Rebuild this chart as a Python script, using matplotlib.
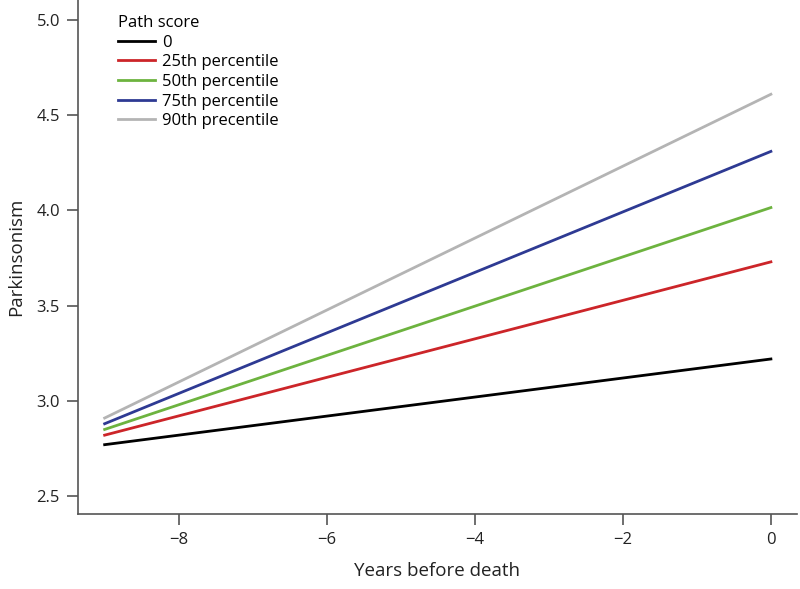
import matplotlib
matplotlib.use("Agg")
import matplotlib.pyplot as plt
import numpy as np

plt.rcParams['font.family'] = ['Open Sans', 'DejaVu Sans']

# years before death, line end points
years = [-9, 0]
labels = ['0', '25th percentile', '50th percentile', '75th percentile', '90th precentile']
colors = ['#000000', '#cc2529', '#6db33f', '#2e3a93', '#b4b4b4']
start_vals = [2.77, 2.82, 2.85, 2.88, 2.91]
end_vals = [3.22, 3.73, 4.015, 4.31, 4.61]

fig = plt.figure(figsize=(8, 5.89), dpi=100)
ax = fig.add_axes([0.0975, 0.127, 0.8985, 0.873])

for lab, col, s, e in zip(labels, colors, start_vals, end_vals):
    ax.plot(years, [s, e], color=col, lw=2, label=lab)

ax.set_xlim(-9.36, 0.35)
ax.set_ylim(2.405, 5.105)
ax.set_xticks([-8, -6, -4, -2, 0])
ax.set_xticklabels(['\u22128', '\u22126', '\u22124', '\u22122', '0'])
ax.set_yticks([2.5, 3.0, 3.5, 4.0, 4.5, 5.0])
ax.set_yticklabels(['2.5', '3.0', '3.5', '4.0', '4.5', '5.0'])

for sp in ['top', 'right']:
    ax.spines[sp].set_visible(False)
for sp in ['left', 'bottom']:
    ax.spines[sp].set_color('#555555')
    ax.spines[sp].set_linewidth(1.2)
ax.tick_params(colors='#555555', labelcolor='#222222', labelsize=12, length=8, width=1.2, pad=5)

ax.set_xlabel('Years before death', fontsize=13.5, color='#222222', labelpad=10)
ax.set_ylabel('Parkinsonism', fontsize=13.5, color='#222222', labelpad=8)

leg = ax.legend(title='Path score', loc='upper left', bbox_to_anchor=(0.035, 1.0),
                frameon=False, fontsize=12, title_fontsize=12, handlelength=2.2,
                labelspacing=0.22, handletextpad=0.45)
leg._legend_box.align = 'left'

fig.savefig('out.png', dpi=100)
